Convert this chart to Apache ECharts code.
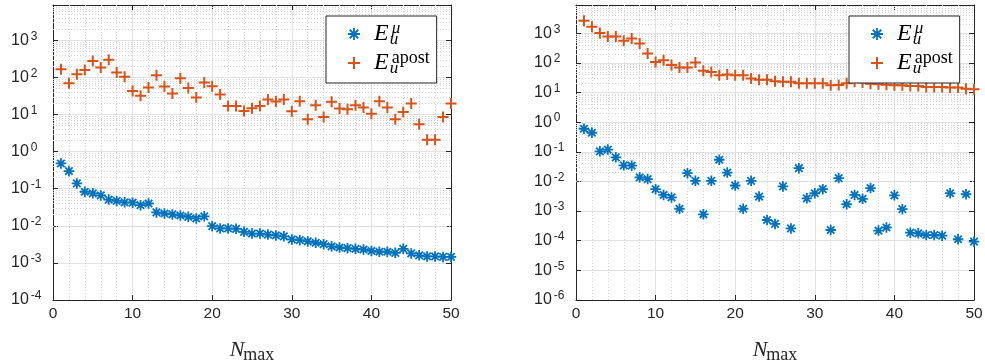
<!DOCTYPE html>
<html><head><meta charset="utf-8">
<script src="https://cdn.jsdelivr.net/npm/echarts@6/dist/echarts.min.js"></script>
<style>html,body{margin:0;padding:0;background:#fff}#c{width:985px;height:362px}</style>
</head><body><div id="c"></div>
<script>
// ---- data ----
const N = [1,2,3,4,5,6,7,8,9,10,11,12,13,14,15,16,17,18,19,20,21,22,23,24,25,26,27,28,29,30,31,32,33,34,35,36,37,38,39,40,41,42,43,44,45,46,47,48,49,50];
const leftMu = [0.48,0.30,0.139,0.083,0.075,0.066,0.051,0.047,0.043,0.042,0.036,0.040,0.023,0.0215,0.0203,0.019,0.0175,0.0158,0.018,0.0098,0.0085,0.0085,0.0083,0.0069,0.0062,0.0062,0.0058,0.0055,0.0052,0.0043,0.0041,0.0038,0.0035,0.0032,0.0028,0.0026,0.0025,0.0024,0.0023,0.0021,0.0020,0.0020,0.00187,0.0024,0.0018,0.0016,0.0015,0.0015,0.00145,0.00145];
const leftApost = [167,70,123,158,280,186,300,137,104,43,32,54,115,57,37,96,52,29,73,58,35,17,17,12.5,14.7,17,25.5,22.5,25.5,12.2,23,7.5,17.8,8.6,22,14.5,13.9,17.8,15.5,10.6,23,15.5,7.5,11.7,20,5.5,2.1,2.1,8.6,20];
const rightMu = [0.60,0.44,0.104,0.119,0.065,0.035,0.034,0.0138,0.012,0.0055,0.0035,0.0029,0.0012,0.019,0.0105,0.00078,0.0105,0.054,0.020,0.0073,0.0012,0.0105,0.0031,0.0005,0.00037,0.0068,0.00026,0.028,0.0027,0.0040,0.0055,0.00023,0.013,0.0017,0.0035,0.0026,0.006,0.00022,0.00028,0.0034,0.00116,0.000187,0.000178,0.000156,0.000156,0.000148,0.0040,0.000112,0.0037,0.000093];
const rightApost = [2650,1660,1020,780,780,560,670,455,208,108,123,85,70,70,103,54,49,38,41,38,38,30,27,27,24,23,23,20.5,20.5,20.5,20.5,17.5,18,20.5,23,22,20,19,18.5,17.5,17.5,16.6,16.6,15.4,15.4,15.4,14.7,14.7,13.5,12.9];
const xTicks = [0,10,20,30,40,50];
const minorX = [2,4,6,8,12,14,16,18,22,24,26,28,32,34,36,38,42,44,46,48];
const mantissas = [2,3,4,5,6,7,8,9];
const leftRange = [1e-4, 9000];
const rightRange = [1e-6, 9000];

// ---- style ----
const BLUE = '#0072BD', ORANGE = '#D95319', AX = '#262626';
const AST = 'path://M6 0V12M0 6H12M1.76 1.76L10.24 10.24M1.76 10.24L10.24 1.76';
const PLUS = 'path://M6 0V12M0 6H12';
const SANS = 'Liberation Sans, Arial, Helvetica, sans-serif';
const SERIF = 'Liberation Serif, Times New Roman, serif';

function minorY(range) {
  const out = [];
  const e0 = Math.round(Math.log10(range[0])), e1 = Math.floor(Math.log10(range[1]));
  for (let e = e0; e <= e1; e++) for (const m of mantissas) {
    const v = m * Math.pow(10, e);
    if (v < range[1]) out.push({ yAxis: v });
  }
  return out;
}
function yLabel(v) {
  const e = Math.log10(v), r = Math.round(e);
  if (Math.abs(e - r) > 1e-6) return '';
  return '{b|10}{s|' + r + '}';
}
const yRich = {
  b: { fontFamily: SANS, fontSize: 16, color: AX, lineHeight: 20 },
  s: { fontFamily: SANS, fontSize: 12, color: AX, lineHeight: 8, verticalAlign: 'top', padding: [0,0,0,2] }
};

function xAxisMain(gi) {
  return {
    type: 'value', gridIndex: gi, min: 0, max: 50, interval: 10, position: 'bottom',
    axisLine: { show: true, onZero: false, lineStyle: { color: AX, width: 1 } },
    axisTick: { show: true, inside: true, length: 5, lineStyle: { color: AX } },
    axisLabel: { fontFamily: SANS, fontSize: 15.5, color: AX, margin: 6 },
    splitLine: { show: true, lineStyle: { color: '#e2e2e2', width: 1 } },
    name: '{n|N}{s|max}', nameLocation: 'middle', nameGap: 39,
    nameTextStyle: { rich: {
      n: { fontFamily: SERIF, fontStyle: 'italic', fontSize: 22, color: AX, lineHeight: 22 },
      s: { fontFamily: SERIF, fontSize: 18, color: AX, verticalAlign: 'bottom', padding: [0,0,-3,-1] }
    } }
  };
}
function xAxisTop(gi) {
  return {
    type: 'value', gridIndex: gi, min: 0, max: 50, interval: 10, position: 'top',
    axisLine: { show: true, onZero: false, lineStyle: { color: AX, width: 1 } },
    axisTick: { show: true, inside: true, length: 5, lineStyle: { color: AX } },
    axisLabel: { show: false }, splitLine: { show: false }
  };
}
function yAxisMain(gi, range) {
  return {
    type: 'log', logBase: 10, gridIndex: gi, min: range[0], max: range[1], splitNumber: 10, position: 'left',
    axisLine: { show: true, onZero: false, lineStyle: { color: AX, width: 1 } },
    axisTick: { show: true, inside: true, length: 5, lineStyle: { color: AX } },
    axisLabel: { formatter: yLabel, rich: yRich, align: 'left', margin: 42 },
    splitLine: { show: true, lineStyle: { color: '#e2e2e2', width: 1 } }
  };
}
function yAxisRight(gi, range) {
  return {
    type: 'log', logBase: 10, gridIndex: gi, min: range[0], max: range[1], splitNumber: 10, position: 'right',
    axisLine: { show: true, onZero: false, lineStyle: { color: AX, width: 1 } },
    axisTick: { show: true, inside: true, length: 5, lineStyle: { color: AX } },
    axisLabel: { show: false }, splitLine: { show: false }
  };
}
function minorMarkLine(range) {
  const data = minorY(range).concat(minorX.map(x => ({ xAxis: x })));
  return {
    silent: true, symbol: 'none', z: 1, animation: false,
    label: { show: false }, emphasis: { disabled: true },
    lineStyle: { type: [1, 2], color: '#d4d4d4', width: 1 },
    data: data
  };
}
function series(gi, name, values, range) {
  const isMu = name === 'mu';
  const s = {
    type: 'scatter', name: name, xAxisIndex: gi, yAxisIndex: gi,
    data: N.map((n, i) => [n, values[i]]),
    symbol: isMu ? AST : PLUS, symbolSize: isMu ? 10.5 : 11,
    itemStyle: { color: isMu ? BLUE : ORANGE, borderColor: isMu ? BLUE : ORANGE, borderWidth: isMu ? 1.8 : 2, opacity: 1 },
    emphasis: { disabled: true }, animation: false, z: 3
  };
  if (isMu) s.markLine = minorMarkLine(range);
  return s;
}
const legendRich = {
  E: { fontFamily: SERIF, fontStyle: 'italic', fontSize: 24, color: '#000', lineHeight: 28, padding: [0,1,0,9] },
  u: { fontFamily: SERIF, fontStyle: 'italic', fontSize: 17, color: '#000', lineHeight: 16, verticalAlign: 'bottom', padding: [0,-8.5,0,0] },
  m: { fontFamily: SERIF, fontStyle: 'italic', fontSize: 17, color: '#000', lineHeight: 12, verticalAlign: 'top', padding: [0,0,0,2] },
  a: { fontFamily: SERIF, fontSize: 18, color: '#000', lineHeight: 11, verticalAlign: 'top', padding: [0,0,0,2] }
};
function legend(left) {
  return {
    orient: 'vertical', left: left, top: 16, itemWidth: 12, itemHeight: 12, itemGap: 1,
    padding: [4, 7, 6, 21], borderColor: AX, borderWidth: 1, backgroundColor: '#fff', borderRadius: 0,
    selectedMode: false,
    data: [
      { name: 'mu', icon: AST, itemStyle: { color: BLUE, borderColor: BLUE, borderWidth: 1.8 } },
      { name: 'apost', icon: PLUS, itemStyle: { color: ORANGE, borderColor: ORANGE, borderWidth: 2 } }
    ],
    formatter: n => n === 'mu' ? '{E|E}{u|u}{m|μ}' : '{E|E}{u|u}{a|apost}',
    textStyle: { rich: legendRich }
  };
}

const option = {
  animation: false,
  backgroundColor: '#fff',
  grid: [
    { left: 53, top: 5, width: 398, height: 295, outerBoundsMode: 'none', containLabel: false },
    { left: 576, top: 5, width: 398, height: 295, outerBoundsMode: 'none', containLabel: false }
  ],
  xAxis: [xAxisMain(0), xAxisMain(1), xAxisTop(0), xAxisTop(1)],
  yAxis: [yAxisMain(0, leftRange), yAxisMain(1, rightRange), yAxisRight(0, leftRange), yAxisRight(1, rightRange)],
  legend: [legend(326), legend(849)],
  series: [
    series(0, 'mu', leftMu, leftRange),
    series(0, 'apost', leftApost, leftRange),
    series(1, 'mu', rightMu, rightRange),
    series(1, 'apost', rightApost, rightRange)
  ]
};
const chart = echarts.init(document.getElementById('c'), null, { renderer: 'canvas' });
chart.setOption(option);
</script></body></html>
